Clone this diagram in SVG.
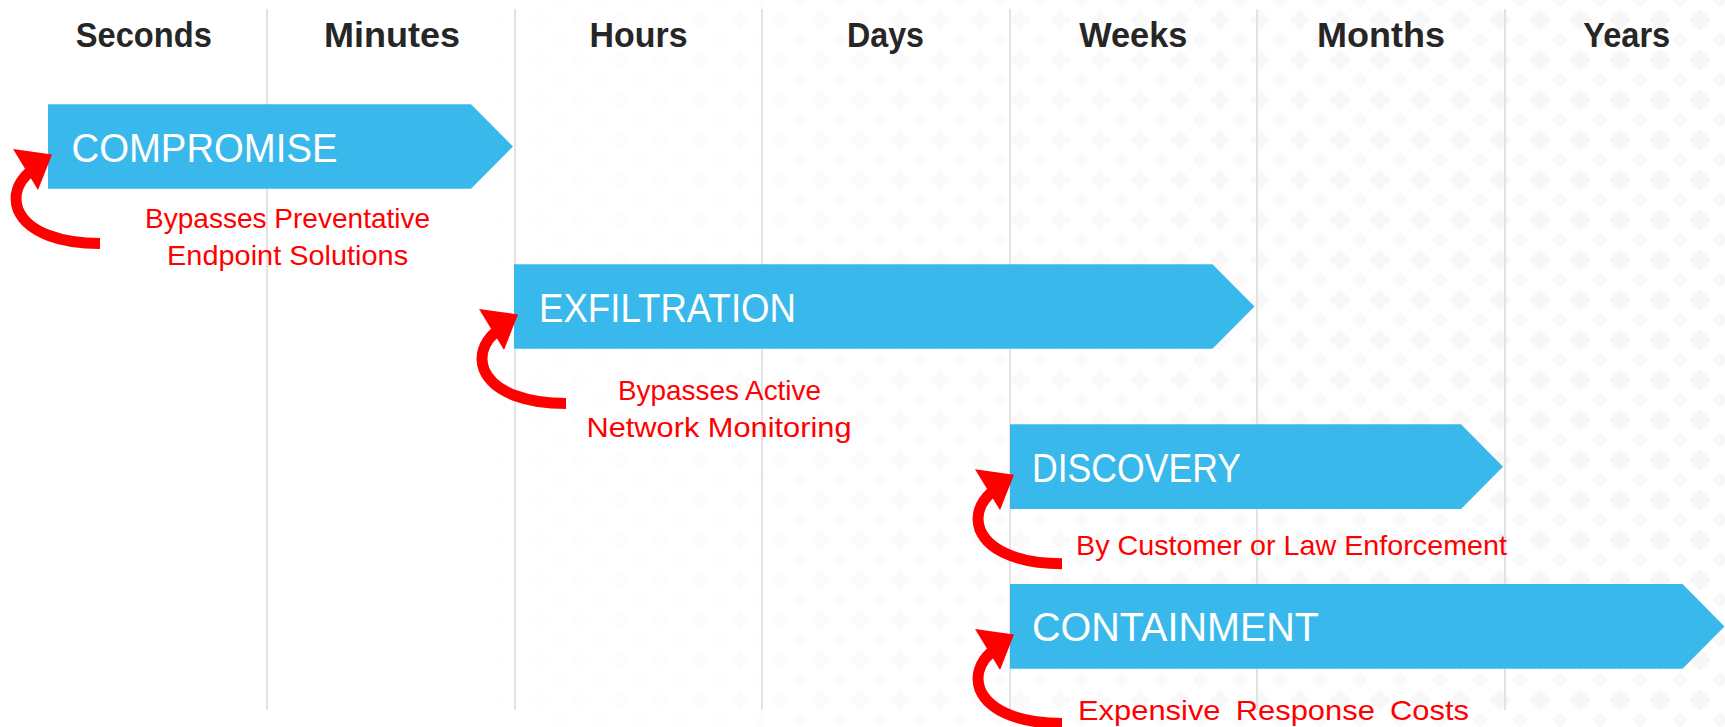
<svg xmlns="http://www.w3.org/2000/svg" xmlns:xlink="http://www.w3.org/1999/xlink" width="1725" height="727" viewBox="0 0 1725 727">
<style>
.hdr{font-family:"Liberation Sans",Arial,sans-serif;font-weight:bold;font-size:35px;fill:#262626;text-anchor:middle}
.bar{fill:#39B9EB}
.btxt{font-family:"Liberation Sans",Arial,sans-serif;font-size:40px;fill:#FFFFFF}
.note{font-family:"Liberation Sans",Arial,sans-serif;font-size:28px;fill:#FF0000;text-anchor:middle}
.grid{stroke:#DADADA;stroke-width:1.5}
</style>
<defs>
<pattern id="dia" width="40" height="40" patternUnits="userSpaceOnUse">
<polygon points="20,9 31,20 20,31 9,20" fill="#EDEDED"/>
<polygon points="0,-8 8,0 0,8 -8,0" fill="#F1F1F1"/>
<polygon points="40,-8 48,0 40,8 32,0" fill="#F1F1F1"/>
<polygon points="0,32 8,40 0,48 -8,40" fill="#F1F1F1"/>
<polygon points="40,32 48,40 40,48 32,40" fill="#F1F1F1"/>
</pattern>
<linearGradient id="fade" x1="0" y1="0" x2="1" y2="0">
<stop offset="0" stop-color="#fff" stop-opacity="0"/>
<stop offset="0.35" stop-color="#fff" stop-opacity="0.5"/>
<stop offset="1" stop-color="#fff" stop-opacity="1"/>
</linearGradient>
<mask id="fadeMask" maskUnits="userSpaceOnUse" x="0" y="0" width="1725" height="727">
<rect x="440" y="0" width="1285" height="727" fill="url(#fade)"/>
</mask>
<g id="curl">
<path d="M52,97 C15,97 -20,87 -30,63 C-35,49 -30,36 -19,26" fill="none" stroke="#FF0000" stroke-width="11"/>
<polygon points="-35,2.5 4,8 -10,43.5" fill="#FF0000"/>
</g>
</defs>
<rect width="1725" height="727" fill="#FFFFFF"/>
<rect x="440" y="0" width="1285" height="727" fill="url(#dia)" mask="url(#fadeMask)" opacity="0.5"/>

<g id="grid-lines">
<line class="grid" x1="267" y1="9" x2="267" y2="710"/>
<line class="grid" x1="515" y1="9" x2="515" y2="710"/>
<line class="grid" x1="762" y1="9" x2="762" y2="710"/>
<line class="grid" x1="1010" y1="9" x2="1010" y2="710"/>
<line class="grid" x1="1257" y1="9" x2="1257" y2="710"/>
<line class="grid" x1="1505" y1="9" x2="1505" y2="710"/>
</g>

<g id="headers">
<text class="hdr" x="143.8" y="46.7" textLength="136" lengthAdjust="spacingAndGlyphs">Seconds</text>
<text class="hdr" x="392" y="46.7" textLength="136" lengthAdjust="spacingAndGlyphs">Minutes</text>
<text class="hdr" x="638.6" y="46.7" textLength="98" lengthAdjust="spacingAndGlyphs">Hours</text>
<text class="hdr" x="885.5" y="46.7" textLength="77" lengthAdjust="spacingAndGlyphs">Days</text>
<text class="hdr" x="1133.3" y="46.7" textLength="108" lengthAdjust="spacingAndGlyphs">Weeks</text>
<text class="hdr" x="1381" y="46.7" textLength="128" lengthAdjust="spacingAndGlyphs">Months</text>
<text class="hdr" x="1626.7" y="46.7" textLength="87" lengthAdjust="spacingAndGlyphs">Years</text>
</g>

<g id="node-compromise">
<polygon class="bar" points="48,104.3 471,104.3 513,146.5 471,188.7 48,188.7"/>
<text class="btxt" x="71.5" y="161.5" textLength="266" lengthAdjust="spacingAndGlyphs">COMPROMISE</text>
</g>
<g id="node-exfiltration">
<polygon class="bar" points="514,264.3 1212.5,264.3 1254.5,306.5 1212.5,348.7 514,348.7"/>
<text class="btxt" x="539" y="321.5" textLength="257" lengthAdjust="spacingAndGlyphs">EXFILTRATION</text>
</g>
<g id="node-discovery">
<polygon class="bar" points="1010,424.3 1461,424.3 1503,466.7 1461,509 1010,509"/>
<text class="btxt" x="1032" y="481.7" textLength="209" lengthAdjust="spacingAndGlyphs">DISCOVERY</text>
</g>
<g id="node-containment">
<polygon class="bar" points="1010,584 1682.5,584 1724.5,626.4 1682.5,668.7 1010,668.7"/>
<text class="btxt" x="1032" y="641.4" textLength="287" lengthAdjust="spacingAndGlyphs">CONTAINMENT</text>
</g>

<g id="connectors">
<use xlink:href="#curl" href="#curl" transform="translate(48,146.5)"/>
<use xlink:href="#curl" href="#curl" transform="translate(514,306.5)"/>
<use xlink:href="#curl" href="#curl" transform="translate(1010,466.7)"/>
<use xlink:href="#curl" href="#curl" transform="translate(1010,626.4)"/>
</g>

<g id="notes">
<text class="note" x="287.6" y="228" textLength="285" lengthAdjust="spacingAndGlyphs">Bypasses Preventative</text>
<text class="note" x="287.6" y="265" textLength="241" lengthAdjust="spacingAndGlyphs">Endpoint Solutions</text>
<text class="note" x="719.5" y="399.5" textLength="203" lengthAdjust="spacingAndGlyphs">Bypasses Active</text>
<text class="note" x="719" y="437" textLength="265" lengthAdjust="spacingAndGlyphs">Network Monitoring</text>
<text class="note" x="1291.5" y="555" textLength="431" lengthAdjust="spacingAndGlyphs">By Customer or Law Enforcement</text>
<text class="note" x="1273.5" y="720" textLength="391" lengthAdjust="spacingAndGlyphs" word-spacing="6">Expensive Response Costs</text>
</g>
</svg>
